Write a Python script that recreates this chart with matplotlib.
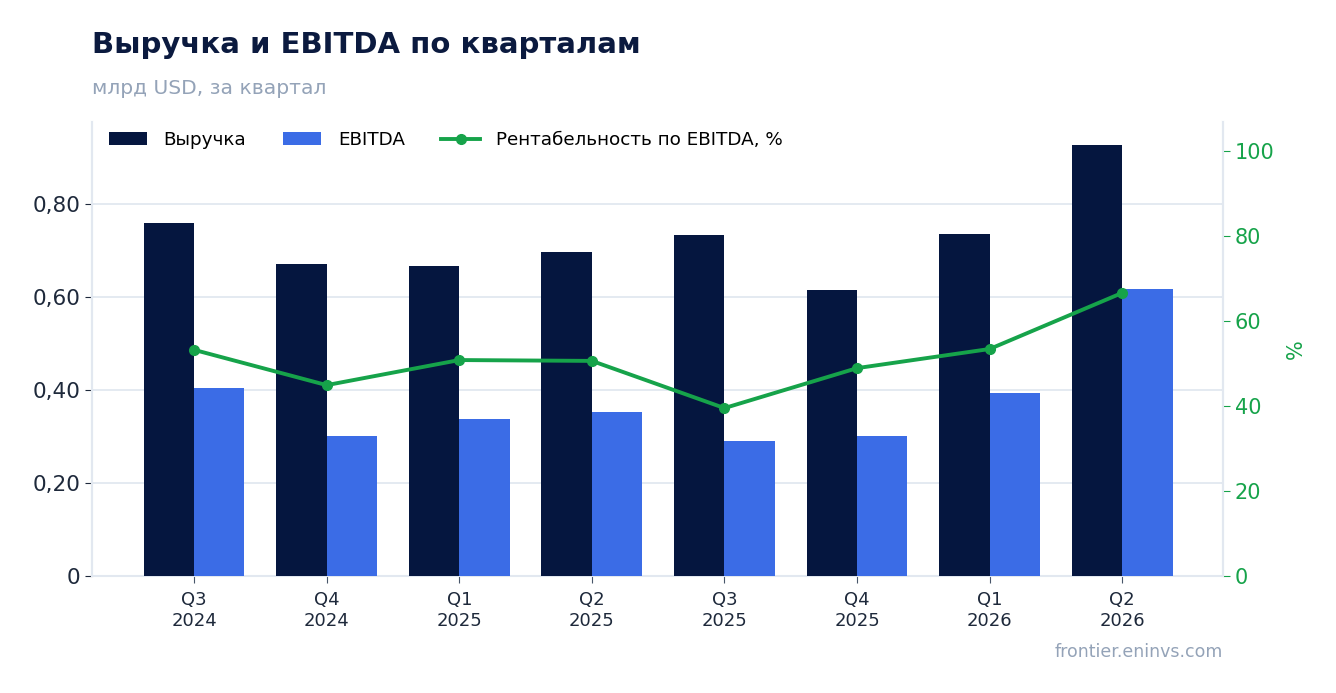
import numpy as np
import matplotlib.pyplot as plt
from matplotlib.ticker import FuncFormatter, MultipleLocator

quarters = ["Q3\n2024", "Q4\n2024", "Q1\n2025", "Q2\n2025",
            "Q3\n2025", "Q4\n2025", "Q1\n2026", "Q2\n2026"]
revenue = [0.759, 0.671, 0.667, 0.697, 0.733, 0.615, 0.735, 0.927]
ebitda = [0.404, 0.301, 0.338, 0.353, 0.290, 0.301, 0.394, 0.617]
margin = [53.2, 44.9, 50.8, 50.6, 39.5, 48.9, 53.4, 66.6]

navy = "#05163f"
blue = "#3b6ce6"
green = "#16a34a"
grid_c = "#e2e8f0"

fig = plt.figure(figsize=(13.36, 6.93), dpi=100)
ax = fig.add_axes([92 / 1336, 1 - 576 / 693, (1223 - 92) / 1336, (576 - 122) / 693])
ax2 = ax.twinx()

x = np.arange(len(quarters))
w = 0.38
ax.bar(x - w / 2, revenue, w, color=navy, label="Выручка", zorder=3)
ax.bar(x + w / 2, ebitda, w, color=blue, label="EBITDA", zorder=3)
ax2.plot(x, margin, color=green, lw=2.8, marker="o", ms=7,
         label="Рентабельность по EBITDA, %", zorder=4)

ax.set_xlim(-0.77, 7.76)
ax.set_ylim(0, 0.976)
ax2.set_ylim(0, 106.8)
ax.yaxis.set_major_locator(MultipleLocator(0.2))
ax2.yaxis.set_major_locator(MultipleLocator(20))
ax.yaxis.set_major_formatter(FuncFormatter(lambda v, p: "0" if v == 0 else f"{v:.2f}".replace(".", ",")))

ax.set_xticks(x)
ax.set_xticklabels(quarters, fontsize=13, color="#1e293b")
ax.tick_params(axis="x", length=5, color="#475569", pad=6)
ax.tick_params(axis="y", labelsize=15.5, colors="#1e293b", length=5)
ax2.tick_params(axis="y", labelsize=15, colors=green, length=5)

ax.grid(axis="y", color=grid_c, lw=1.3, zorder=0)
ax.set_axisbelow(True)
for a in (ax, ax2):
    a.spines["top"].set_visible(False)
    for s in ("left", "right", "bottom"):
        a.spines[s].set_color(grid_c)
        a.spines[s].set_linewidth(1.5)
ax2.spines["bottom"].set_visible(False)

ax2.set_ylabel("%", color=green, fontsize=15, labelpad=8)

h1, l1 = ax.get_legend_handles_labels()
h2, l2 = ax2.get_legend_handles_labels()
leg = ax.legend(h1 + h2, l1 + l2, loc="upper left", ncol=3, frameon=False,
                fontsize=13.2, bbox_to_anchor=(0.0, 1.016), handlelength=2.1,
                columnspacing=2.0, handletextpad=0.9)
leg.set_zorder(10)

fig.text(92 / 1336, 1 - 45 / 693, "Выручка и EBITDA по кварталам", fontsize=21,
         fontweight="bold", color="#0b1a3f", va="center")
fig.text(92 / 1336, 1 - 88 / 693, "млрд USD, за квартал", fontsize=14.6,
         color="#94a3b8", va="center")
fig.text(1223 / 1336, 1 - 652 / 693, "frontier.eninvs.com", fontsize=12.5,
         color="#94a3b8", va="center", ha="right")

fig.savefig("out.png", dpi=100)
